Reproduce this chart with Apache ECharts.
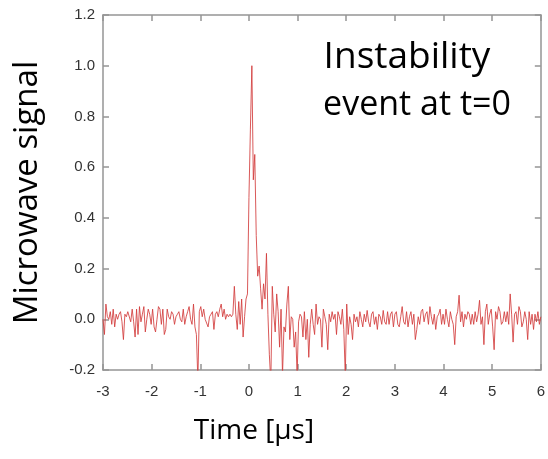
<!DOCTYPE html>
<html><head><meta charset="utf-8">
<script src="https://cdn.jsdelivr.net/npm/echarts@6/dist/echarts.min.js"></script>
<style>html,body{margin:0;padding:0;background:#fff}#c{width:548px;height:459px}</style>
</head><body><div id="c"></div>
<script>
const T0 = -3, DT = 0.03;
const signal = [
 0.00,-0.06,0.06,0.01,0.00,0.03,-0.02,0.04,-0.03,0.02,
 0.00,0.02,0.03,-0.01,-0.08,0.02,0.01,0.03,0.03,-0.01,
 0.04,-0.01,-0.07,0.04,-0.06,0.05,-0.01,0.02,0.05,-0.05,
 0.00,0.04,0.02,-0.02,0.04,-0.03,-0.05,0.00,0.05,0.04,
 -0.02,0.04,-0.06,-0.04,0.04,0.01,0.00,0.03,0.02,-0.02,
 0.01,0.02,0.03,0.00,-0.01,0.04,-0.02,0.01,0.03,0.05,
 0.00,-0.02,0.06,-0.03,-0.06,-0.24,0.03,0.05,0.01,0.04,
 0.00,0.00,-0.03,0.01,0.02,0.03,-0.04,0.02,0.03,0.01,
 0.04,0.06,0.01,0.04,0.00,0.02,0.01,0.02,0.01,0.02,
 0.13,0.02,-0.04,0.07,-0.02,0.08,-0.07,0.01,0.08,0.10,
 0.48,0.75,1.00,0.55,0.65,0.33,0.17,0.21,0.12,0.04,
 0.14,0.08,0.26,0.02,-0.14,-0.25,0.13,0.02,-0.05,0.10,
 0.03,-0.11,0.04,-0.22,-0.03,-0.05,0.06,0.13,-0.08,0.01,
 0.00,-0.11,-0.05,-0.22,-0.01,0.02,0.01,-0.07,0.03,-0.08,
 0.00,-0.15,-0.02,0.04,-0.02,-0.06,0.06,-0.02,0.01,0.00,
 -0.11,0.04,0.01,-0.02,-0.12,0.02,-0.01,0.03,0.00,0.02,
 -0.06,0.03,0.01,-0.02,0.04,-0.04,-0.22,0.06,-0.06,0.01,
 -0.02,-0.08,0.02,-0.01,0.01,-0.03,0.03,0.00,-0.03,0.02,
 -0.01,0.035,-0.01,-0.03,0.02,0.03,-0.02,0.01,-0.04,0.02,
 0.01,-0.02,0.035,-0.01,-0.02,0.03,-0.02,0.02,0.03,-0.03,
 0.02,0.03,-0.02,-0.03,0.01,0.05,-0.01,-0.02,0.03,-0.03,
 0.01,0.03,-0.02,0.02,-0.08,-0.04,0.01,-0.02,0.03,0.04,
 -0.01,0.02,0.03,-0.02,0.05,0.01,-0.02,0.02,-0.04,0.01,
 0.02,0.04,-0.02,0.02,-0.02,0.04,0.00,-0.03,0.03,0.00,
 -0.02,-0.10,0.01,0.03,0.095,-0.01,0.03,-0.03,0.02,0.00,
 0.03,0.02,-0.02,0.02,-0.02,0.03,-0.01,0.02,0.075,-0.02,
 0.01,-0.10,0.03,0.06,-0.02,0.02,0.04,-0.03,-0.12,0.03,
 0.00,0.05,0.03,-0.02,-0.01,0.03,-0.01,0.03,-0.02,0.10,
 0.02,-0.09,0.02,0.03,-0.02,0.05,0.03,-0.03,-0.01,0.03,
 0.00,-0.08,0.03,-0.02,0.02,-0.04,0.02,-0.01,0.03,-0.02,0.01
];
const xTicks = [-3, -2, -1, 0, 1, 2, 3, 4, 5, 6];
const yTicks = [-0.2, 0, 0.2, 0.4, 0.6, 0.8, 1.0, 1.2];
const xName = 'Time [μs]';
const yName = 'Microwave signal';
const noteLines = ['Instability', 'event at t=0'];

const data = signal.map((v, i) => [T0 + i * DT, v]);
const AX = '#959595';
const lab = { fontFamily: 'Liberation Sans, Arial, sans-serif', fontSize: 15, color: '#333' };
const xBase = { type: 'value', min: xTicks[0], max: xTicks[xTicks.length - 1], interval: 1,
  splitLine: { show: false }, axisLine: { show: true, onZero: false, lineStyle: { color: AX, width: 1.5 } },
  axisTick: { show: true, inside: true, length: 6, lineStyle: { color: AX, width: 1.5 } } };
const yBase = { type: 'value', min: yTicks[0], max: yTicks[yTicks.length - 1], interval: 0.2,
  splitLine: { show: false }, axisLine: { show: true, onZero: false, lineStyle: { color: AX, width: 1.5 } },
  axisTick: { show: true, inside: true, length: 6, lineStyle: { color: AX, width: 1.5 } } };

const chart = echarts.init(document.getElementById('c'), null, { renderer: 'canvas' });
chart.setOption({
  animation: false,
  grid: { left: 103, right: 7, top: 15, bottom: 89 },
  xAxis: [
    Object.assign({}, xBase, { position: 'bottom',
      axisLabel: Object.assign({ margin: 14, formatter: v => String(v) }, lab),
      name: xName, nameLocation: 'middle', nameGap: 47,
      nameTextStyle: { fontFamily: 'Open Sans', fontSize: 28, color: '#000', padding: [0, 136, 0, 0] } }),
    Object.assign({}, xBase, { position: 'top', axisLabel: { show: false } })
  ],
  yAxis: [
    Object.assign({}, yBase, { position: 'left',
      axisLabel: Object.assign({ margin: 8, formatter: v => v.toFixed(1) }, lab),
      name: yName, nameLocation: 'middle', nameGap: 59, nameRotate: 90,
      nameTextStyle: { fontFamily: 'Open Sans', fontSize: 33, color: '#000' } }),
    Object.assign({}, yBase, { position: 'right', axisLabel: { show: false } })
  ],
  series: [{
    type: 'line', xAxisIndex: 0, yAxisIndex: 0, data: data, showSymbol: false, clip: true,
    lineStyle: { color: '#d23c3c', width: 1, opacity: 0.85 }
  }],
  graphic: [
    { type: 'text', x: 407, y: 39, style: { text: noteLines[0], align: 'center', verticalAlign: 'top', fontFamily: 'Open Sans', fontSize: 37, fill: '#000' } },
    { type: 'text', x: 417, y: 88, style: { text: noteLines[1], align: 'center', verticalAlign: 'top', fontFamily: 'Open Sans', fontSize: 34, fill: '#000' } }
  ]
});
</script></body></html>
